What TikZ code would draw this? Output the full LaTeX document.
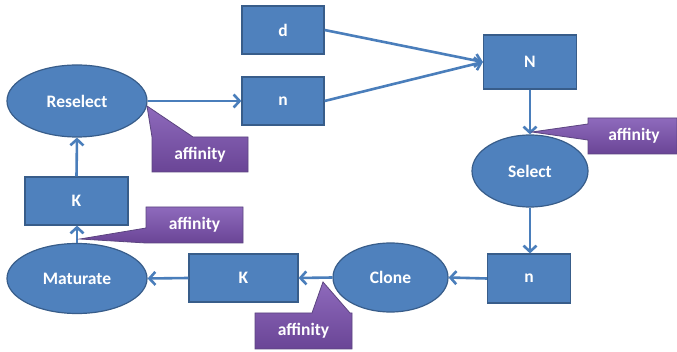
\documentclass[tikz,border=0pt]{standalone}
\usepackage{fontspec}
\setmainfont{Carlito}
\usetikzlibrary{arrows.meta,shapes.geometric}
\definecolor{boxblue}{HTML}{4F81BD}
\definecolor{boxedge}{HTML}{385D8A}
\definecolor{arrowblue}{HTML}{4A7EBB}
\definecolor{purptop}{HTML}{8E6ABC}
\definecolor{purpbot}{HTML}{6A4596}
\definecolor{purpedge}{HTML}{5C4580}
\tikzset{
  blockbox/.style={draw=boxedge, line width=1.2pt, fill=boxblue, rectangle, inner sep=0pt,
    text=white, font=\fontsize{17.5}{20}\selectfont\bfseries},
  blockell/.style={draw=boxedge, line width=1.2pt, fill=boxblue, ellipse, inner sep=0pt,
    text=white, font=\fontsize{17.5}{20}\selectfont\bfseries},
  flow/.style={draw=arrowblue, line width=2.6pt, -{Straight Barb[length=6pt,width=13pt]}},
  callout/.style={top color=purptop, bottom color=purpbot, draw=purpedge, line width=0.8pt},
  calltext/.style={text=white, font=\fontsize{17.5}{20}\selectfont\bfseries, inner sep=0pt}
}
\begin{document}
\begin{tikzpicture}[x=1pt,y=-1pt]
\path[use as bounding box, fill=white] (0,0) rectangle (677,352);

\node[blockbox, minimum width=82pt, minimum height=48pt] (d) at (283,30) {d};
\node[blockbox, minimum width=82pt, minimum height=48pt] (n1) at (283,101) {n};
\node[blockell, minimum width=140pt, minimum height=72pt] (reselect) at (77,101) {Reselect};
\node[blockbox, minimum width=103pt, minimum height=48pt] (k1) at (76.5,201) {K};
\node[blockell, minimum width=140pt, minimum height=70pt] (maturate) at (77,278.5) {Maturate};
\node[blockbox, minimum width=109pt, minimum height=48pt] (k2) at (243.5,278) {K};
\node[blockell, minimum width=115pt, minimum height=69pt] (clone) at (390.5,277.5) {Clone};
\node[blockbox, minimum width=83pt, minimum height=49pt] (n2) at (529,278.5) {n};
\node[blockell, minimum width=116pt, minimum height=72pt] (select) at (530,171) {Select};
\node[blockbox, minimum width=93pt, minimum height=54pt] (N) at (530,62) {N};

\draw[flow] (reselect.east) -- (n1.west);
\draw[flow] (d.east) -- (N.west);
\draw[flow] (n1.east) -- (N.west);
\draw[flow] (N.south) -- (select.north);
\draw[flow] (select.south) -- (select.south |- n2.north);
\draw[flow] (n2.west) -- (clone.east);
\draw[flow] (clone.west) -- (k2.east);
\draw[flow] (k2.west) -- (maturate.east);
\draw[flow] (maturate.north) -- (maturate.north |- k1.south);
\draw[flow] (k1.south |- k1.north) -- (reselect.south);

% callouts
\shadedraw[callout] (152,137) -- (147,106) -- (193,137) -- (248,137) -- (248,172) -- (152,172) -- cycle;
\node[calltext] (aff1) at (200,155) {affinity};

\shadedraw[callout] (146,207) -- (243,207) -- (243,243) -- (146,243) -- (80,239) -- (146,228) -- cycle;
\node[calltext] (aff2) at (194.5,225) {affinity};

\shadedraw[callout] (255,313) -- (312,313) -- (323,282) -- (350,313) -- (352,313) -- (352,349) -- (255,349) -- cycle;
\node[calltext] (aff3) at (303.5,331) {affinity};

\shadedraw[callout] (588,118) -- (677,118) -- (677,154) -- (588,154) -- (588,140) -- (532,132) -- (588,124) -- cycle;
\node[calltext] (aff4) at (634,136) {affinity};
\end{tikzpicture}
\end{document}
